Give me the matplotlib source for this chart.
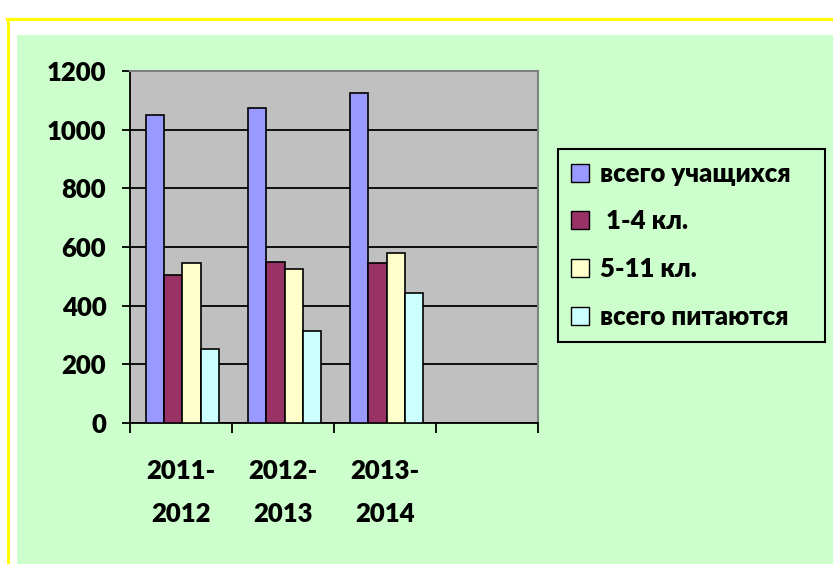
import numpy as np
import matplotlib
matplotlib.use("Agg")
import matplotlib.pyplot as plt
from matplotlib.patches import Rectangle, Patch
from matplotlib.lines import Line2D

plt.rcParams['font.family'] = ['Lato', 'DejaVu Sans']
plt.rcParams['font.weight'] = 'heavy'

# data
years = ["2011-\n2012", "2012-\n2013", "2013-\n2014"]
series_names = ["всего учащихся", " 1-4 кл.", "5-11 кл.", "всего питаются"]
total = [1050, 1075, 1125]
grades_1_4 = [505, 550, 545]
grades_5_11 = [545, 525, 580]
fed = [253, 313, 443]
colors = ["#9999FF", "#993366", "#FFFFCC", "#CCFFFF"]
values = [total, grades_1_4, grades_5_11, fed]

fig = plt.figure(figsize=(8.33, 5.64), dpi=100)
fig.patch.set_facecolor("white")

# green panel and yellow border
fig.add_artist(Rectangle((0.0204, 0), 1, 0.938, transform=fig.transFigure,
                         facecolor="#CCFFCC", edgecolor="none", zorder=0))
fig.add_artist(Line2D([0.009, 1], [0.966, 0.966], transform=fig.transFigure,
                      color="#FFFF00", lw=2.2))
fig.add_artist(Line2D([0.0096, 0.0096], [0, 0.966], transform=fig.transFigure,
                      color="#FFFF00", lw=2.2))

ax = fig.add_axes([0.156, 0.25, 0.490, 0.624])
ax.set_facecolor("#C0C0C0")

w = 0.18
x = np.arange(len(years)) + 0.5
for i, (vals, c) in enumerate(zip(values, colors)):
    ax.bar(x + (i - 1.5) * w + 0.015, vals, width=w, color=c,
           edgecolor="black", linewidth=1.2, zorder=3)

ax.set_xlim(0, 4)
ax.set_ylim(0, 1200)
ax.set_yticks(range(0, 1201, 200))
ax.yaxis.grid(True, color="black", linewidth=1.3, zorder=1)
ax.set_axisbelow(True)

ax.set_xticks([0, 1, 2, 3, 4])
ax.set_xticklabels([])
ax.set_xticks(x, minor=True)
ax.set_xticklabels(years, minor=True, fontsize=18.5, linespacing=1.95)
ax.tick_params(axis='x', which='major', direction='out', length=7, width=1.3)
ax.tick_params(axis='x', which='minor', length=0, pad=26)
ax.tick_params(axis='y', direction='out', length=6, width=1.3, pad=11,
               labelsize=18.5)

for s in ['top', 'right']:
    ax.spines[s].set_color("#808080")
    ax.spines[s].set_linewidth(1.5)
for s in ['left', 'bottom']:
    ax.spines[s].set_color("black")
    ax.spines[s].set_linewidth(1.3)

handles = [Patch(facecolor=c, edgecolor="black", linewidth=1.0) for c in colors]
leg = fig.legend(handles, series_names, loc='upper left',
                 bbox_to_anchor=(0.670, 0.394, 0.320, 0.342), mode='expand',
                 prop={'size': 18.5, 'weight': 'heavy'},
                 handlelength=0.72, handleheight=0.7, handletextpad=0.4,
                 labelspacing=0.92, borderpad=0.5, borderaxespad=0,
                 fancybox=False, framealpha=1)
leg.get_frame().set_facecolor("#CCFFCC")
leg.get_frame().set_edgecolor("black")
leg.get_frame().set_linewidth(1.5)

fig.savefig("out.png", dpi=100)
